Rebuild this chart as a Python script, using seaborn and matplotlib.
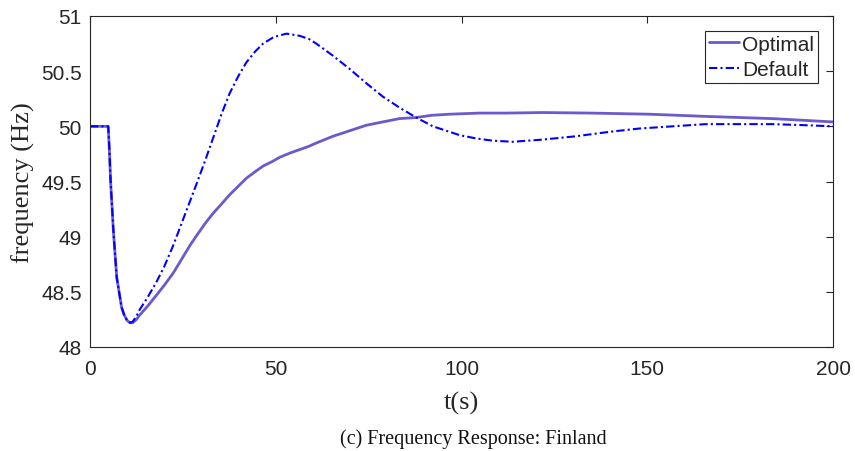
import matplotlib
matplotlib.use("Agg")
import matplotlib.pyplot as plt
import seaborn as sns
import pandas as pd

# ---- data ----
t_optimal = [0, 4.9, 5.2, 5.55, 5.8, 6.3, 7.2, 8.5, 9.2, 10.0, 10.75, 11.5, 12.5, 13.4,
             15.5, 17.9, 20, 22.4, 24.2, 26.9, 28.7, 31, 33.1, 35.5, 37.6, 40, 42.1,
             44.5, 46.6, 49, 51.1, 54, 56.5, 59, 61, 65.4, 69.9, 74.4, 78.8, 83.3,
             87.8, 92, 96.8, 104.8, 112, 121.8, 135, 150.5, 165.8, 183.7, 200]
f_optimal = [50.0, 50.0, 49.8, 49.5, 49.35, 49.05, 48.63, 48.36, 48.29, 48.24, 48.22,
             48.22, 48.25, 48.29, 48.37, 48.47, 48.56, 48.67, 48.77, 48.92, 49.01,
             49.12, 49.21, 49.30, 49.38, 49.46, 49.53, 49.59, 49.64, 49.68, 49.72,
             49.76, 49.79, 49.82, 49.85, 49.91, 49.96, 50.01, 50.04, 50.07, 50.08,
             50.10, 50.11, 50.12, 50.12, 50.125, 50.12, 50.11, 50.09, 50.07, 50.04]

t_default = [0, 4.9, 5.2, 5.55, 5.8, 6.3, 7.2, 8.5, 9.2, 10.0, 10.75, 11.5, 12.5, 13.4,
             15.5, 17.9, 20, 22.4, 24.2, 26.9, 28.7, 31, 33.1, 35.5, 37.6, 40, 42.1,
             44.5, 46.6, 49.5, 52.9, 56.5, 59, 60.9, 65.4, 69.9, 74.4, 78.8, 83.3,
             87.8, 92.3, 96.8, 99.5, 104, 108.4, 113.8, 121.9, 130.8, 139.8, 147.8,
             156.8, 165.8, 174.7, 183.7, 192.7, 200]
f_default = [50.0, 50.0, 49.8, 49.5, 49.35, 49.05, 48.63, 48.36, 48.29, 48.24, 48.22,
             48.23, 48.28, 48.34, 48.45, 48.59, 48.73, 48.92, 49.08, 49.32, 49.48,
             49.69, 49.89, 50.12, 50.30, 50.46, 50.58, 50.68, 50.75, 50.81, 50.84,
             50.82, 50.79, 50.75, 50.64, 50.52, 50.39, 50.27, 50.17, 50.08, 50.00,
             49.95, 49.92, 49.89, 49.87, 49.86, 49.88, 49.91, 49.95, 49.98, 50.00,
             50.02, 50.02, 50.02, 50.01, 50.00]

x_ticks = [0, 50, 100, 150, 200]
y_ticks = [48, 48.5, 49, 49.5, 50, 50.5, 51]
y_tick_labels = ["48", "48.5", "49", "49.5", "50", "50.5", "51"]

df_opt = pd.DataFrame({"t": t_optimal, "f": f_optimal})
df_def = pd.DataFrame({"t": t_default, "f": f_default})

sns.set_style("white")
plt.rcParams["font.family"] = ["Liberation Sans", "DejaVu Sans"]

fig = plt.figure(figsize=(8.55, 4.52), dpi=100)
ax = fig.add_axes([90 / 855, 1 - 348 / 452, (833 - 90) / 855, (348 - 17) / 452])

sns.lineplot(data=df_opt, x="t", y="f", ax=ax, color="#6A5ACD", linewidth=2.0,
             label="Optimal", estimator=None, sort=False)
sns.lineplot(data=df_def, x="t", y="f", ax=ax, color="#0000FF", linewidth=1.5,
             label="Default", estimator=None, sort=False)
ax.lines[1].set_dashes((4, 1.5, 1, 1.5))
for ln in ax.lines:
    ln.set_solid_joinstyle("round")
    ln.set_dash_joinstyle("round")

ax.set_xlim(0, 200)
ax.set_ylim(48, 51)
ax.set_xticks(x_ticks)
ax.set_xticklabels([str(v) for v in x_ticks])
ax.set_yticks(y_ticks)
ax.set_yticklabels(y_tick_labels)

for s in ax.spines.values():
    s.set_color("#262626")
    s.set_linewidth(0.8)
ax.tick_params(direction="in", length=5, width=0.8, color="#262626",
               top=True, right=True, labelsize=15, labelcolor="#262626")
ax.tick_params(axis="x", pad=9)
ax.tick_params(axis="y", pad=6)

ax.set_xlabel("t(s)", fontsize=19, family=["Liberation Serif"], color="#262626",
              labelpad=9)
ax.set_ylabel("frequency (Hz)", fontsize=19, family=["Liberation Serif"],
              color="#262626", labelpad=4)

leg = ax.legend(loc="upper right", fontsize=15, frameon=True, fancybox=False,
                edgecolor="#262626", framealpha=1, borderpad=0.2,
                labelspacing=0.3, handlelength=1.45, handletextpad=0.15,
                borderaxespad=0.7)
leg.get_frame().set_linewidth(0.8)

fig.text(473 / 855, 1 - 439 / 452, "(c) Frequency Response: Finland",
         ha="center", va="center", fontsize=14.5, family=["Liberation Serif"],
         color="#111111")

fig.savefig("out.png", dpi=100)
